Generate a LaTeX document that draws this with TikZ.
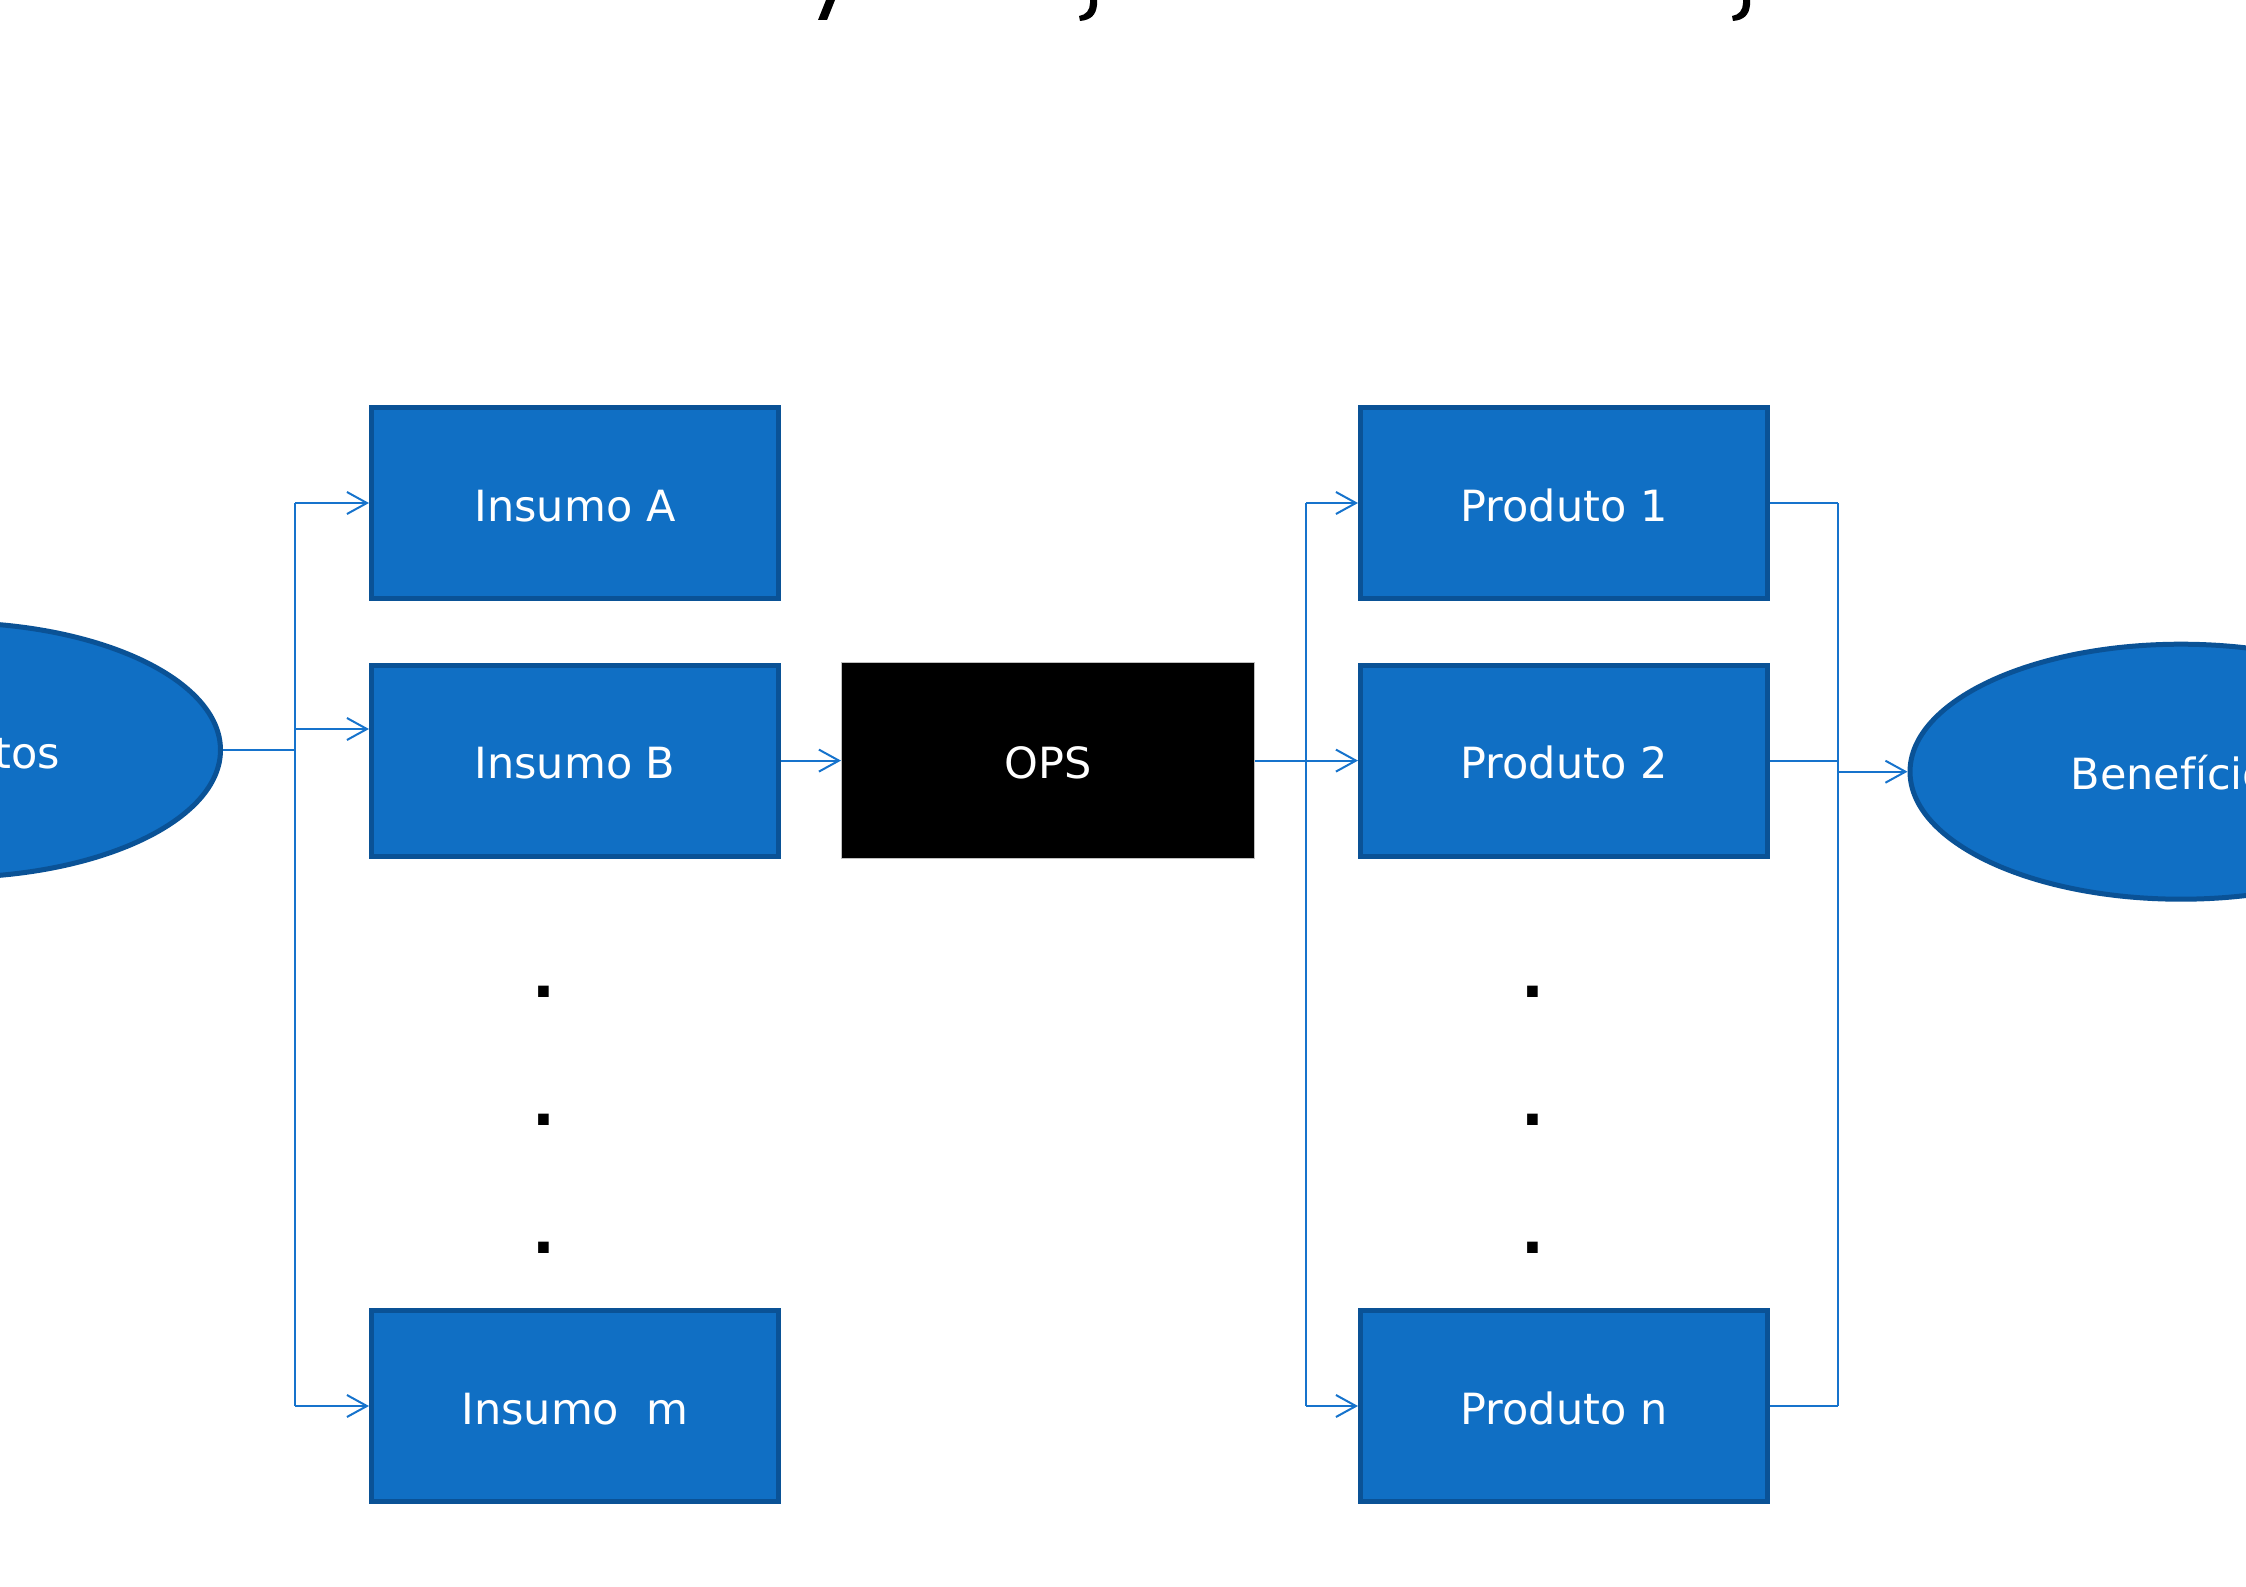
\documentclass[tikz,border=0pt]{standalone}
\usepackage{fontspec}
\setmainfont{DejaVu Sans}
\usetikzlibrary{arrows.meta,shapes.geometric}
\definecolor{boxfill}{RGB}{16,111,196}
\definecolor{boxline}{RGB}{10,82,150}
\definecolor{linkblue}{RGB}{22,115,204}
\begin{document}
\begin{tikzpicture}[x=1pt,y=-1pt,
  lbl/.style={font=\fontsize{43}{52}\selectfont, text=white, text height=36pt, text depth=0pt, inner sep=0pt},
  bluebox/.style={lbl, rectangle, draw=boxline, fill=boxfill, line width=5pt, minimum width=407pt, minimum height=191pt},
  opsbox/.style={lbl, rectangle, draw=black!25, line width=1pt, fill=black, minimum width=413pt, minimum height=196pt},
  oval/.style={lbl, ellipse, draw=boxline, fill=boxfill, line width=5pt, minimum width=542pt, minimum height=255pt},
  link/.style={draw=linkblue, line width=2pt},
  arr/.style={link, -{Straight Barb[length=20pt,width=22pt,line width=2pt]}},
  vdot/.style={font=\fontsize{60}{64}\selectfont\bfseries, inner sep=0pt, anchor=base},
  frag/.style={fill=black}]
\useasboundingbox (0,0) rectangle (2246,1587);
\clip (0,0) rectangle (2246,1587);

% cropped title fragments
\fill[frag] (826,0) -- (835,0) -- (827,20) -- (818,20) -- cycle;
\fill[frag] (1090,0) -- (1097,0) -- (1097,5) .. controls (1096,15) and (1091,20) .. (1080,21) -- (1079,16) .. controls (1086,15) and (1090,10) .. (1090,3) -- cycle;
\fill[frag] (1743,0) -- (1750,0) -- (1750,5) .. controls (1749,15) and (1744,20) .. (1733,21) -- (1732,16) .. controls (1739,15) and (1743,10) .. (1743,3) -- cycle;

% nodes
\node[oval] (L) at (-50.5,750) {Requisitos};
\node[oval] (R) at (2181,771.7) {Benefícios};
\node[bluebox] (A) at (575,503) {Insumo A};
\node[bluebox] (B) at (575,760.6) {Insumo B};
\node[bluebox] (M) at (575,1406) {Insumo\ \ m};
\node[opsbox] (O) at (1048,760.6) {OPS};
\node[bluebox] (P1) at (1564,503) {Produto 1};
\node[bluebox] (P2) at (1564,760.6) {Produto 2};
\node[bluebox] (Pn) at (1564,1406) {Produto n};

% vertical ellipsis dots
\node[vdot] (la) at (543.5,997) {.};
\node[vdot] (lb) at (543.5,1125) {.};
\node[vdot] (lc) at (543.5,1253) {.};
\node[vdot] (ra) at (1532.7,997) {.};
\node[vdot] (rb) at (1532.7,1125) {.};
\node[vdot] (rc) at (1532.7,1253) {.};

% left fan-out
\coordinate (jL) at (295,750);
\coordinate (bin) at ([yshift=31.6pt]B.west);
\draw[link] (L.east) -- (jL);
\draw[link] (jL |- A.west) -- (jL |- M.west);
\draw[arr] (jL |- A.west) -- (A.west);
\draw[arr] (jL |- bin) -- (bin);
\draw[arr] (jL |- M.west) -- (M.west);

% to OPS
\draw[arr] (B.east) -- (O.west);

% OPS fan-out
\coordinate (jO) at (1306,760.6);
\draw[link] (O.east) -- (jO);
\draw[link] (jO |- P1.west) -- (jO |- Pn.west);
\draw[arr] (jO |- P1.west) -- (P1.west);
\draw[arr] (jO |- P2.west) -- (P2.west);
\draw[arr] (jO |- Pn.west) -- (Pn.west);

% fan-in to benefits
\coordinate (jR) at (1838,771.7);
\draw[link] (P1.east) -- (jR |- P1.east);
\draw[link] (P2.east) -- (jR |- P2.east);
\draw[link] (Pn.east) -- (jR |- Pn.east);
\draw[link] (jR |- P1.east) -- (jR |- Pn.east);
\draw[arr] (jR) -- (R.west);
\end{tikzpicture}
\end{document}
